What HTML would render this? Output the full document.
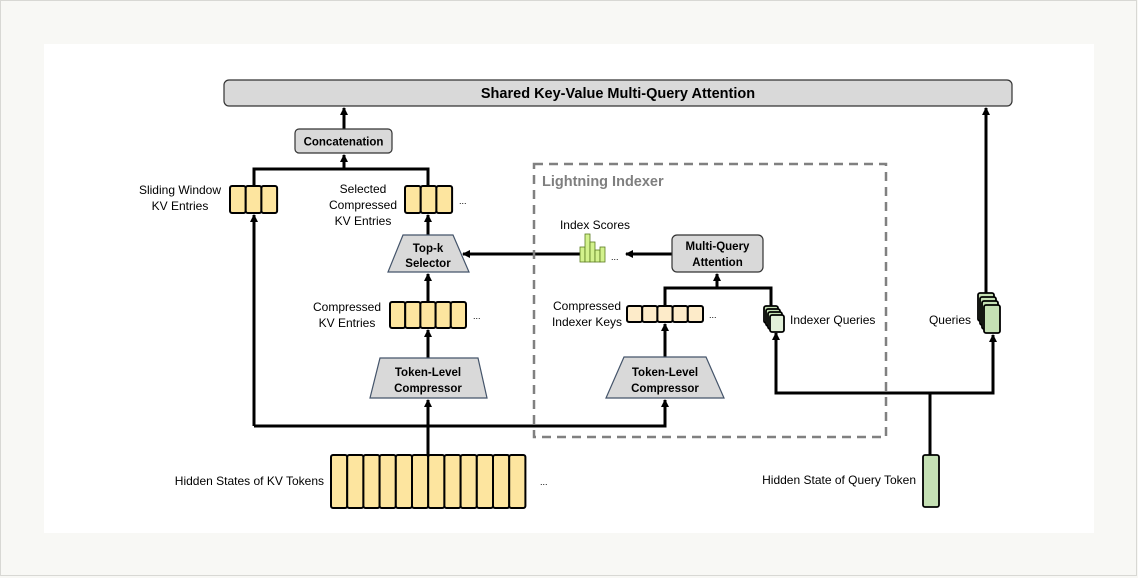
<!DOCTYPE html>
<html><head><meta charset="utf-8"><style>
html,body{margin:0;padding:0;background:#f8f8f5;}
svg{display:block;font-family:"Liberation Sans",sans-serif;}
</style></head><body>
<svg width="1138" height="578" viewBox="0 0 1138 578" xmlns="http://www.w3.org/2000/svg">
<defs>
<marker id="a" markerWidth="8" markerHeight="8" refX="7" refY="4" orient="auto" markerUnits="userSpaceOnUse">
<path d="M0,0 L8,4 L0,8 z" fill="#000"/></marker>
</defs>
<rect x="0.5" y="0.5" width="1136" height="575" fill="#f8f8f5" stroke="#d8d8d4"/>
<rect x="44" y="44" width="1050" height="489" fill="#fff"/>

<!-- top bar -->
<rect x="224" y="80" width="788" height="26" rx="5" fill="#d9d9d9" stroke="#333" stroke-width="1.2"/>
<text x="618" y="98" text-anchor="middle" font-size="14.5" font-weight="bold">Shared Key-Value Multi-Query Attention</text>

<g fill="none" stroke="#000" stroke-width="3">
<!-- concat -->
<line x1="344" y1="129" x2="344" y2="108" marker-end="url(#a)"/>
<polyline points="254,186 254,169 428,169 428,186"/>
<line x1="344" y1="169" x2="344" y2="155" marker-end="url(#a)"/>
<line x1="254" y1="426" x2="254" y2="215" marker-end="url(#a)"/>
<line x1="428" y1="235" x2="428" y2="215" marker-end="url(#a)"/>
<line x1="428" y1="302" x2="428" y2="274" marker-end="url(#a)"/>
<line x1="428" y1="358" x2="428" y2="330" marker-end="url(#a)"/>
<line x1="428" y1="455" x2="428" y2="400" marker-end="url(#a)"/>
<polyline points="254,426 665,426 665,400" marker-end="url(#a)"/>
<line x1="580" y1="254" x2="463" y2="254" marker-end="url(#a)"/>
<line x1="672" y1="254" x2="626" y2="254" marker-end="url(#a)"/>
<line x1="717" y1="288" x2="717" y2="274" marker-end="url(#a)"/>
<polyline points="665,306 665,288 771,288 771,306"/>
<line x1="665" y1="357" x2="665" y2="324" marker-end="url(#a)"/>
<polyline points="930,455 930,393 776,393 776,333" marker-end="url(#a)"/>
<polyline points="930,393 993,393 993,335" marker-end="url(#a)"/>
<line x1="986" y1="293" x2="986" y2="108" marker-end="url(#a)"/>
</g>

<!-- concatenation -->
<rect x="295" y="129" width="97" height="24" rx="4" fill="#d9d9d9" stroke="#333" stroke-width="1.2"/>
<text x="343.5" y="145.5" text-anchor="middle" font-size="11.5" font-weight="bold">Concatenation</text>

<!-- sliding window -->
<g fill="#fde59f" stroke="#000" stroke-width="2">
<rect x="230" y="186" width="15.7" height="27" rx="2"/><rect x="245.7" y="186" width="15.7" height="27" rx="2"/><rect x="261.4" y="186" width="15.7" height="27" rx="2"/>
<rect x="405" y="186" width="15.7" height="27" rx="2"/><rect x="420.7" y="186" width="15.7" height="27" rx="2"/><rect x="436.4" y="186" width="15.7" height="27" rx="2"/>
<rect x="390" y="302" width="15.2" height="26" rx="2"/><rect x="405.2" y="302" width="15.2" height="26" rx="2"/><rect x="420.4" y="302" width="15.2" height="26" rx="2"/><rect x="435.6" y="302" width="15.2" height="26" rx="2"/><rect x="450.8" y="302" width="15.2" height="26" rx="2"/>
</g>
<g fill="#fde59f" stroke="#000" stroke-width="2">
<rect x="331" y="455" width="16.2" height="53" rx="2"/><rect x="347.2" y="455" width="16.2" height="53" rx="2"/><rect x="363.4" y="455" width="16.2" height="53" rx="2"/><rect x="379.6" y="455" width="16.2" height="53" rx="2"/><rect x="395.8" y="455" width="16.2" height="53" rx="2"/><rect x="412" y="455" width="16.2" height="53" rx="2"/><rect x="428.2" y="455" width="16.2" height="53" rx="2"/><rect x="444.4" y="455" width="16.2" height="53" rx="2"/><rect x="460.6" y="455" width="16.2" height="53" rx="2"/><rect x="476.8" y="455" width="16.2" height="53" rx="2"/><rect x="493" y="455" width="16.2" height="53" rx="2"/><rect x="509.2" y="455" width="16.2" height="53" rx="2"/>
</g>
<g fill="#fdebc9" stroke="#000" stroke-width="2">
<rect x="627" y="306" width="15.2" height="16" rx="2"/><rect x="642.2" y="306" width="15.2" height="16" rx="2"/><rect x="657.4" y="306" width="15.2" height="16" rx="2"/><rect x="672.6" y="306" width="15.2" height="16" rx="2"/><rect x="687.8" y="306" width="15.2" height="16" rx="2"/>
</g>
<g font-size="9" fill="#000"><text x="459" y="204">...</text><text x="473" y="319">...</text><text x="540" y="485">...</text><text x="709" y="318">...</text><text x="611" y="260">...</text></g>

<!-- trapezoids -->
<polygon points="403,235 453,235 469,272 388,272" fill="#d9d9d9" stroke="#44546a" stroke-width="1.2"/>
<text x="428" y="252" text-anchor="middle" font-size="11.5" font-weight="bold">Top-k</text>
<text x="428" y="267" text-anchor="middle" font-size="11.5" font-weight="bold">Selector</text>
<polygon points="380,358 478,358 487,398 370,398" fill="#d9d9d9" stroke="#44546a" stroke-width="1.2"/>
<text x="428" y="376" text-anchor="middle" font-size="11.5" font-weight="bold">Token-Level</text>
<text x="428" y="392" text-anchor="middle" font-size="11.5" font-weight="bold">Compressor</text>
<polygon points="624,357 706,357 724,398 606,398" fill="#d9d9d9" stroke="#44546a" stroke-width="1.2"/>
<text x="665" y="376" text-anchor="middle" font-size="11.5" font-weight="bold">Token-Level</text>
<text x="665" y="392" text-anchor="middle" font-size="11.5" font-weight="bold">Compressor</text>

<!-- lightning indexer -->
<rect x="534" y="164" width="352" height="273" fill="none" stroke="#808080" stroke-width="2.5" stroke-dasharray="9,6"/>
<text x="542" y="186" font-size="14.5" font-weight="bold" fill="#7f7f7f">Lightning Indexer</text>

<rect x="672" y="235" width="91" height="37" rx="5" fill="#d9d9d9" stroke="#333" stroke-width="1.2"/>
<text x="717.5" y="250" text-anchor="middle" font-size="11.5" font-weight="bold">Multi-Query</text>
<text x="717.5" y="266" text-anchor="middle" font-size="11.5" font-weight="bold">Attention</text>

<g fill="#d3f28d" stroke="#5a7a20" stroke-width="0.8">
<rect x="580" y="247" width="5" height="15"/><rect x="585" y="234" width="5" height="28"/><rect x="590" y="242" width="5" height="20"/><rect x="595" y="250" width="5" height="12"/><rect x="600" y="247" width="5" height="15"/>
</g>

<!-- indexer queries stack -->
<g fill="#c5e0b4" stroke="#000" stroke-width="1.8">
<rect x="764" y="306" width="14" height="17" rx="2"/><rect x="766" y="309" width="14" height="17" rx="2"/><rect x="768" y="312" width="14" height="17" rx="2"/><rect x="770" y="315" width="14" height="17" rx="2" fill="#e2f0d9"/>
</g>
<!-- queries stack -->
<g fill="#c5e0b4" stroke="#000" stroke-width="1.8">
<rect x="978" y="293" width="16" height="28" rx="2"/><rect x="980" y="297" width="16" height="28" rx="2"/><rect x="982" y="301" width="16" height="28" rx="2"/><rect x="984" y="305" width="16" height="28" rx="2"/>
<rect x="923" y="455" width="16" height="52" rx="2"/>
</g>

<!-- labels -->
<g font-size="12" fill="#000">
<text x="180" y="194" text-anchor="middle">Sliding Window</text>
<text x="180" y="210" text-anchor="middle">KV Entries</text>
<text x="363" y="193" text-anchor="middle">Selected</text>
<text x="363" y="209" text-anchor="middle">Compressed</text>
<text x="363" y="225" text-anchor="middle">KV Entries</text>
<text x="347" y="311" text-anchor="middle">Compressed</text>
<text x="347" y="327" text-anchor="middle">KV Entries</text>
<text x="595" y="229" text-anchor="middle">Index Scores</text>
<text x="587" y="310" text-anchor="middle">Compressed</text>
<text x="587" y="326" text-anchor="middle">Indexer Keys</text>
<text x="790" y="324">Indexer Queries</text>
<text x="971" y="324" text-anchor="end">Queries</text>
<text x="324" y="485" text-anchor="end">Hidden States of KV Tokens</text>
<text x="916" y="484" text-anchor="end">Hidden State of Query Token</text>
</g>
</svg>
</body></html>
